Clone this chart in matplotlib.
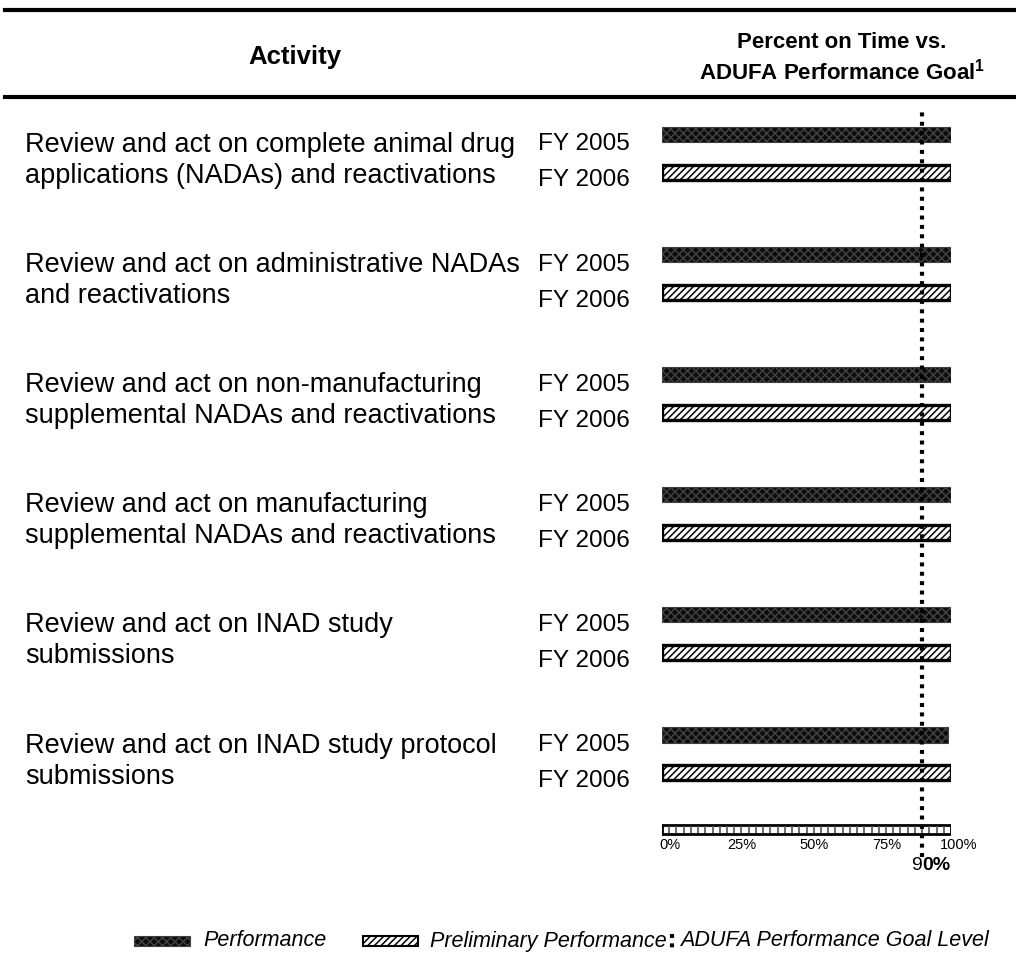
import numpy as np
import matplotlib.pyplot as plt
import matplotlib.transforms as mtransforms
from matplotlib.patches import Rectangle
from matplotlib.lines import Line2D

plt.rcParams['font.family'] = ['Liberation Sans', 'DejaVu Sans']
plt.rcParams['hatch.linewidth'] = 1.1

activities = [
    "Review and act on complete animal drug\napplications (NADAs) and reactivations",
    "Review and act on administrative NADAs\nand reactivations",
    "Review and act on non-manufacturing\nsupplemental NADAs and reactivations",
    "Review and act on manufacturing\nsupplemental NADAs and reactivations",
    "Review and act on INAD study\nsubmissions",
    "Review and act on INAD study protocol\nsubmissions",
]
fy_labels = ["FY 2005", "FY 2006"]
performance_2005 = [100, 100, 100, 100, 100, 99]
preliminary_2006 = [100, 100, 100, 100, 100, 100]
goal = 90
axis_ticks = [0, 25, 50, 75, 100]
legend_labels = ["Performance", "Preliminary Performance", "ADUFA Performance Goal Level"]

W, H = 1016, 964
fig = plt.figure(figsize=(W / 100, H / 100), dpi=100)

# bar panel: x in percent, y in row units (one row = ~120 px)
ax = fig.add_axes([662 / W, 1 - 870 / H, 289 / W, 770 / H])
ax.set_xlim(0, 100)
ax.set_ylim(5.966, -0.445)
ax.axis('off')

rows = np.arange(len(activities))
off, h = 0.158, 0.125
perf_style = dict(facecolor='#0c0c0c', edgecolor='#404040', hatch='xxxx', linewidth=0.8)
prelim_style = dict(facecolor='white', edgecolor='black', hatch='/////', linewidth=2.4)
ax.barh(rows - off, performance_2005, height=h, **perf_style)
ax.barh(rows + off, preliminary_2006, height=h, **prelim_style)

# scale strip under the bars
strip_y = 5.63
ax.barh([strip_y], [100], height=0.075, facecolor='white', edgecolor='black', linewidth=2)
ax.vlines(np.arange(2.5, 100, 2.5), strip_y - 0.03, strip_y + 0.03, color='#555555', lw=1.2)
lab_tr = mtransforms.offset_copy(ax.transData, fig=fig, x=8, y=0, units='dots')
for t in axis_ticks:
    ax.text(t, 5.70, f"{t}%", ha='center', va='top', fontsize=10.5, transform=lab_tr)

# goal line
ax.axvline(goal, ymin=0.017, ymax=0.984, color='black', lw=3, linestyle=(0, (0.95, 1.3)))
ax.text(goal, 5.93, "9", ha='right', va='center', fontsize=14)
ax.text(goal, 5.93, "0%", ha='left', va='center', fontsize=14, fontweight='bold')

# row labels
tr = mtransforms.blended_transform_factory(fig.transFigure, ax.transData)
for r, label in zip(rows, activities):
    for k, line in enumerate(label.split("\n")):
        ax.text(25 / W, r - 0.07 + k * 0.258, line, ha='left', va='center',
                fontsize=19.5, transform=tr)
    ax.text(538 / W, r - off + 0.083, fy_labels[0], ha='left', va='center',
            fontsize=17.5, transform=tr)
    ax.text(538 / W, r + off + 0.067, fy_labels[1], ha='left', va='center',
            fontsize=17.5, transform=tr)

# header
for yy in (10, 97):
    fig.add_artist(Line2D([5 / W, 1], [1 - yy / H] * 2, color='black', lw=3,
                          transform=fig.transFigure))
fig.text(295 / W, 1 - 57 / H, "Activity", ha='center', va='center',
         fontsize=18.5, fontweight='bold')
fig.text(842 / W, 1 - 43 / H, "Percent on Time vs.", ha='center', va='center',
         fontsize=16, fontweight='bold')
fig.text(842 / W, 1 - 72 / H, r"ADUFA Performance Goal$^{\mathregular{1}}$",
         ha='center', va='center', fontsize=16, fontweight='bold')

# legend
fig.add_artist(Rectangle((134 / W, 1 - 946 / H), 56 / W, 10 / H,
                         transform=fig.transFigure, **perf_style))
fig.text(203 / W, 1 - 941 / H, legend_labels[0], ha='left', va='center',
         fontsize=15.5, style='italic')
fig.add_artist(Rectangle((363 / W, 1 - 946 / H), 55 / W, 10 / H,
                         transform=fig.transFigure,
                         **dict(prelim_style, linewidth=1.5)))
fig.text(430 / W, 1 - 941 / H, legend_labels[1], ha='left', va='center',
         fontsize=15.5, style='italic')
fig.add_artist(Line2D([672 / W] * 2, [1 - 934 / H, 1 - 949 / H], color='black', lw=3,
                      linestyle=(0, (0.95, 1.3)), transform=fig.transFigure))
fig.text(680 / W, 1 - 941 / H, legend_labels[2], ha='left', va='center',
         fontsize=15.5, style='italic')

fig.savefig("out.png", dpi=100)
